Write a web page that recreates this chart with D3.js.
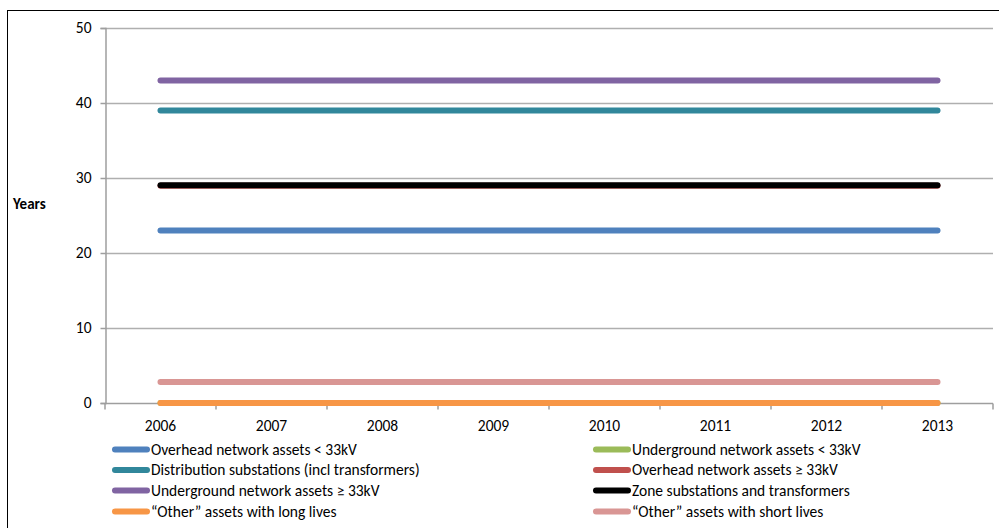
<!DOCTYPE html>
<html>
<head>
<meta charset="utf-8">
<script src="https://cdn.jsdelivr.net/npm/d3@7"></script>
<style>
  html, body { margin: 0; padding: 0; background: #fff; }
  svg { display: block; }
  text { font-family: Carlito, Lato, "Open Sans", sans-serif; fill: #000; }
</style>
</head>
<body>
<svg id="chart" width="999" height="528"></svg>
<script>
// Average remaining life by asset class, 2006–2013
const years = ["2006", "2007", "2008", "2009", "2010", "2011", "2012", "2013"];
const yTicks = [0, 10, 20, 30, 40, 50];

const seriesNames = [
  "Overhead network assets < 33kV",
  "Underground network assets < 33kV",
  "Distribution substations (incl transformers)",
  "Overhead network assets \u2265 33kV",
  "Underground network assets \u2265 33kV",
  "Zone substations and transformers",
  "\u201cOther\u201d assets with long lives",
  "\u201cOther\u201d assets with short lives"
];
const seriesColors = ["#4F81BD", "#9BBB59", "#31879B", "#C0504D", "#8064A2", "#000000", "#F79646", "#D99694"];

const overheadLow      = [23, 23, 23, 23, 23, 23, 23, 23];
const undergroundLow   = [0, 0, 0, 0, 0, 0, 0, 0];
const distSubstations  = [39, 39, 39, 39, 39, 39, 39, 39];
const overheadHigh     = [28.97, 28.97, 28.97, 28.97, 28.97, 28.97, 28.97, 28.97];
const undergroundHigh  = [43, 43, 43, 43, 43, 43, 43, 43];
const zoneSubstations  = [29.05, 29.05, 29.05, 29.05, 29.05, 29.05, 29.05, 29.05];
const otherLong        = [0, 0, 0, 0, 0, 0, 0, 0];
const otherShort       = [2.8, 2.8, 2.8, 2.8, 2.8, 2.8, 2.8, 2.8];

const seriesValues = [overheadLow, undergroundLow, distSubstations, overheadHigh,
                      undergroundHigh, zoneSubstations, otherLong, otherShort];

const FONT = 15.5;
const svg = d3.select("#chart");

// outer chart frame
svg.append("rect")
  .attr("x", 7.5).attr("y", 10.5)
  .attr("width", 1100).attr("height", 700)
  .attr("fill", "none").attr("stroke", "#000").attr("stroke-width", 1);

const plot = { left: 105, right: 993, top: 28, bottom: 403 };

const x = d3.scaleBand().domain(years).range([plot.left, plot.right]);
const y = d3.scaleLinear().domain([0, 50]).range([plot.bottom, plot.top]);

// horizontal gridlines
svg.append("g")
  .selectAll("line")
  .data(yTicks.filter(t => t > 0))
  .join("line")
  .attr("x1", plot.left).attr("x2", plot.right)
  .attr("y1", d => Math.round(y(d)) + 0.5).attr("y2", d => Math.round(y(d)) + 0.5)
  .attr("stroke", "#AFAFAF").attr("stroke-width", 1.5);

// y axis
const yAxis = svg.append("g")
  .attr("transform", `translate(${plot.left + 0.5},0)`)
  .call(d3.axisLeft(y).tickValues(yTicks).tickSize(5).tickPadding(9));
yAxis.select(".domain").attr("stroke", "#9E9E9E").attr("stroke-width", 1.5);
yAxis.selectAll(".tick line").attr("stroke", "#9E9E9E").attr("stroke-width", 1.5);
yAxis.selectAll(".tick text").attr("font-size", FONT).attr("font-family", "Carlito, Lato, sans-serif").attr("fill", "#000");

// x axis with ticks on category boundaries
const xAxisG = svg.append("g").attr("transform", `translate(0,${plot.bottom + 0.5})`);
xAxisG.append("line")
  .attr("x1", plot.left).attr("x2", plot.right)
  .attr("stroke", "#9E9E9E").attr("stroke-width", 1.5);
const boundaries = years.map(d => x(d)).concat([x(years[years.length - 1]) + x.bandwidth()]);
xAxisG.selectAll("line.tk")
  .data(boundaries)
  .join("line")
  .attr("class", "tk")
  .attr("x1", d => d).attr("x2", d => d)
  .attr("y1", 0).attr("y2", 6)
  .attr("stroke", "#9E9E9E").attr("stroke-width", 1.5);
xAxisG.selectAll("text")
  .data(years)
  .join("text")
  .attr("x", d => x(d) + x.bandwidth() / 2)
  .attr("y", 27)
  .attr("text-anchor", "middle")
  .attr("font-size", FONT)
  .text(d => d);

// y axis title
svg.append("text")
  .attr("x", 13).attr("y", 209)
  .attr("font-size", 15).attr("font-weight", "bold")
  .text("Years");

// series lines
const line = d3.line()
  .x((d, i) => x(years[i]) + x.bandwidth() / 2)
  .y(d => y(d));

svg.append("g")
  .selectAll("path")
  .data(seriesValues)
  .join("path")
  .attr("d", d => line(d))
  .attr("fill", "none")
  .attr("stroke", (d, i) => seriesColors[i])
  .attr("stroke-width", 6)
  .attr("stroke-linecap", "round");

// legend: two columns, four rows
const legendCols = [112, 593];
const legendRows = [449.5, 470, 490.5, 511.5];
const legend = svg.append("g")
  .selectAll("g")
  .data(seriesNames)
  .join("g")
  .attr("transform", (d, i) => `translate(${legendCols[i % 2]},${legendRows[Math.floor(i / 2)]})`);
legend.append("line")
  .attr("x1", 3).attr("x2", 35)
  .attr("stroke", (d, i) => seriesColors[i])
  .attr("stroke-width", 6)
  .attr("stroke-linecap", "round");
legend.append("text")
  .attr("x", 39).attr("dy", "0.35em")
  .attr("font-size", FONT)
  .text(d => d);
</script>
</body>
</html>
